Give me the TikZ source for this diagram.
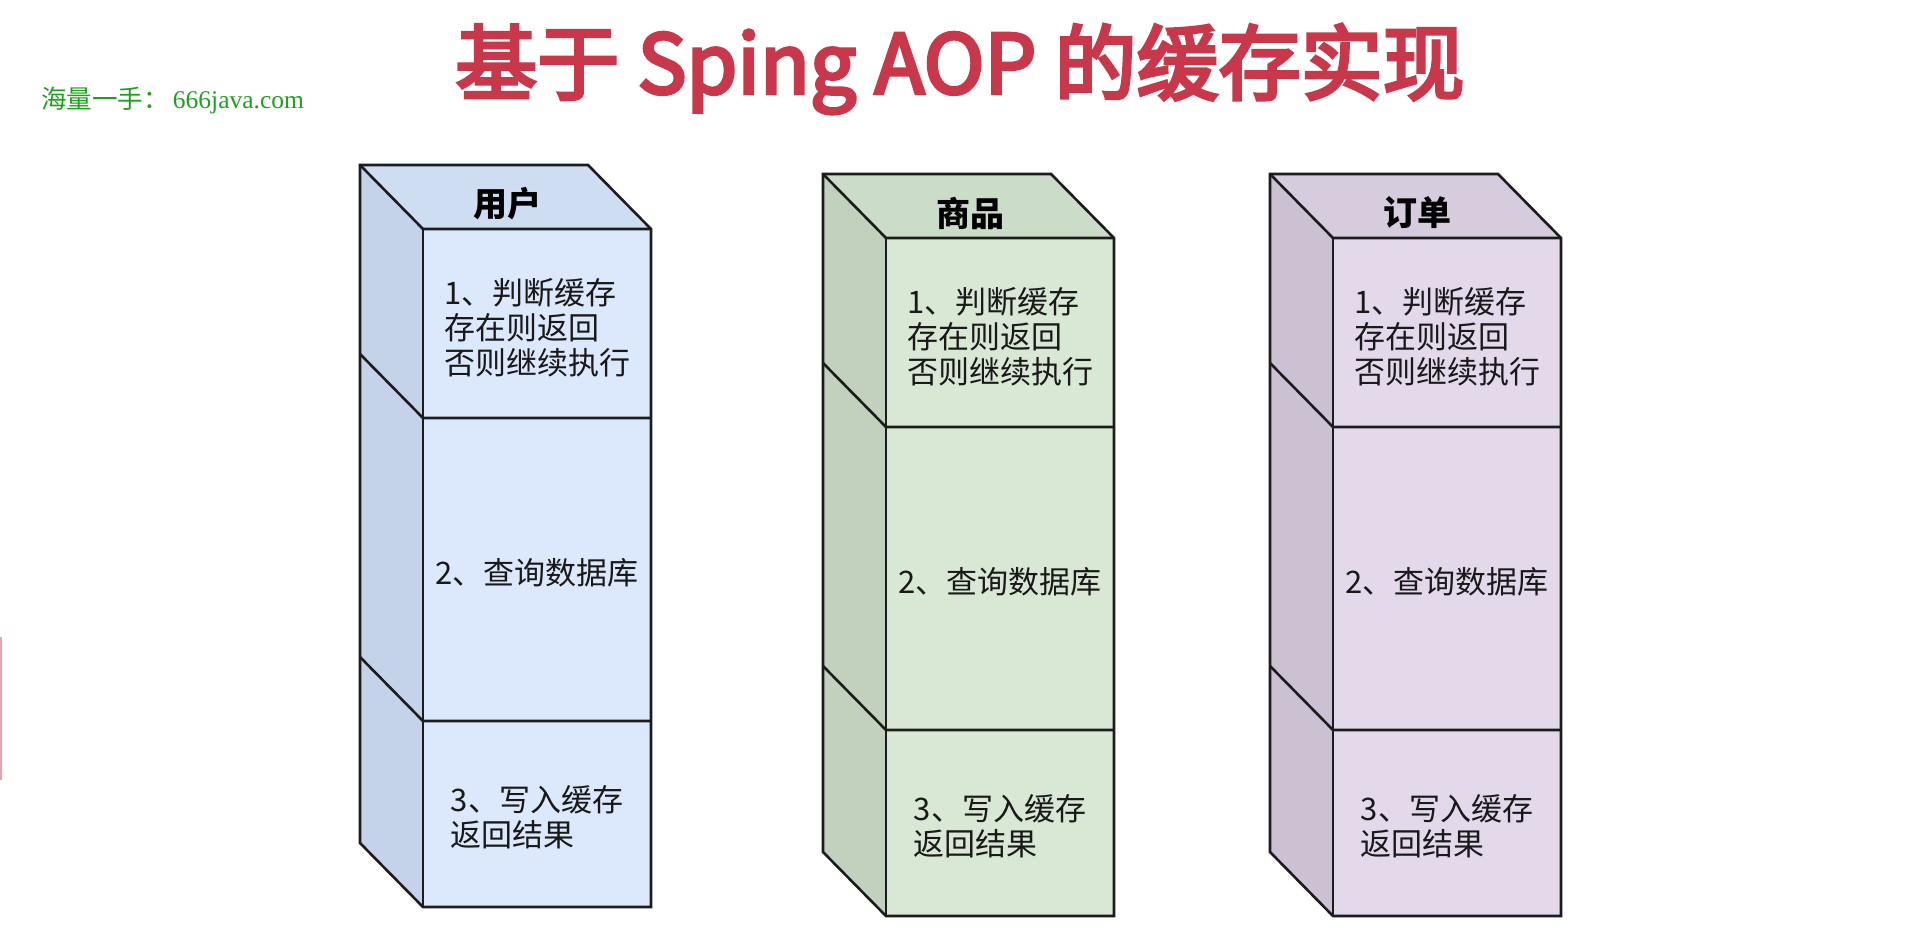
\documentclass[tikz,border=0pt]{standalone}
\usepackage{fontspec}
\setmainfont{Noto Sans CJK SC}
\newfontfamily\cjk{Noto Sans CJK SC}
\newfontfamily\titlefont{Noto Sans CJK SC}[FakeBold=4]
\newfontfamily\wmlatin{Liberation Serif}
\definecolor{titlered}{HTML}{C8374A}
\definecolor{wmgreen}{HTML}{20A020}
\definecolor{edge}{HTML}{1C1C1C}
\definecolor{bfront}{HTML}{DCE8FB}
\definecolor{btop}{HTML}{CFDDF3}
\definecolor{bside}{HTML}{C4D3EA}
\definecolor{gfront}{HTML}{D9E8D5}
\definecolor{gtop}{HTML}{CBDCC8}
\definecolor{gside}{HTML}{C1D1BE}
\definecolor{pfront}{HTML}{E3D9EA}
\definecolor{ptop}{HTML}{D7CCDD}
\definecolor{pside}{HTML}{CCC1D2}
\newcommand{\tower}[6]{% #1 shift, #2 front, #3 top, #4 side, #5 label, #6 name
\begin{scope}[shift={#1}]
  \fill[#4] (0,0) -- (63,64) -- (63,742) -- (0,678) -- cycle;
  \fill[#3] (0,0) -- (228,0) -- (291,64) -- (63,64) -- cycle;
  \fill[#2] (63,64) rectangle (291,742);
  \draw[face] (0,0) -- (228,0) -- (291,64) -- (291,742) -- (63,742) -- (0,678) -- cycle;
  \draw[face] (0,0) -- (63,64) -- (291,64);
  \draw[face] (63,64) -- (63,742);
  \draw[face] (0,189) -- (63,253) -- (291,253);
  \draw[face] (0,492) -- (63,556) -- (291,556);
  \node[hdr] (#6h) at (147,39) {#5};
  \node[body] (#6a) at (177,163) {1、判断缓存\\存在则返回\\否则继续执行};
  \node[body] (#6b) at (177,408) {2、查询数据库};
  \node[body] (#6c) at (177,652) {3、写入缓存\\返回结果};
\end{scope}}
\begin{document}
\begin{tikzpicture}[x=1pt,y=-1pt,
  face/.style={draw=edge,line width=2.6pt,line join=miter},
  hdr/.style={font=\fontsize{34}{38}\selectfont\bfseries,text=black,inner sep=0},
  body/.style={font=\fontsize{31}{35}\selectfont,text=black!90,align=left,inner sep=0}]
\useasboundingbox[fill=white] (0,0) rectangle (1920,931);
\fill[titlered!45] (0,637) rectangle (2,780);
\node[font=\titlefont\fontsize{82}{90}\selectfont,text=titlered,inner sep=0] (title) at (960,69) {基于 Sping AOP 的缓存实现};
\node[font=\fontsize{25.5}{28}\selectfont,text=wmgreen,inner sep=0,anchor=west] (wm) at (41,100) {海量一手：\,\wmlatin 666java.com};
\tower{(360,165)}{bfront}{btop}{bside}{用户}{u}
\tower{(823,174)}{gfront}{gtop}{gside}{商品}{g}
\tower{(1270,174)}{pfront}{ptop}{pside}{订单}{o}
\end{tikzpicture}
\end{document}
